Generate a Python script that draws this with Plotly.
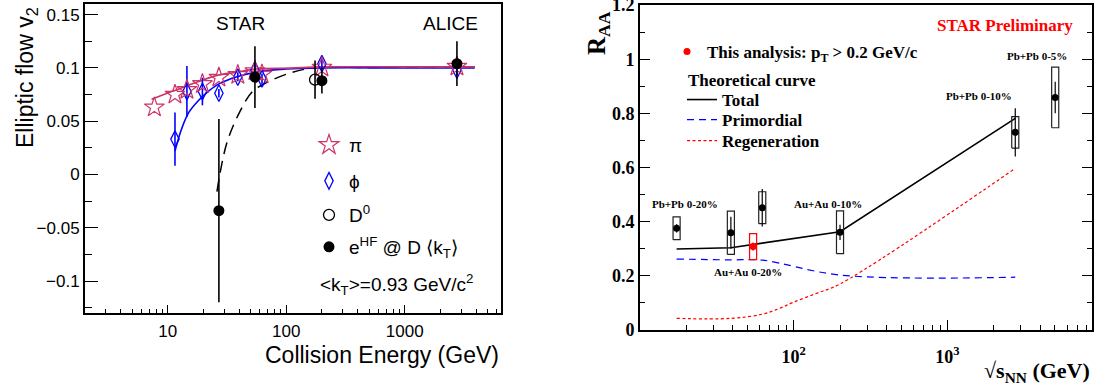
import plotly.graph_objects as go

W, H = 1099, 389

# ---------------- Left panel data (v2 vs collision energy) ----------------
pi_energy = [7.7, 11.5, 14.5, 19.6, 27, 39, 54.4, 62.4, 200, 2760]
pi_v2 = [0.063, 0.075, 0.0795, 0.085, 0.091, 0.0935, 0.097, 0.094, 0.1004, 0.1013]
pi_fit_energy = [7.3, 10.9, 18, 26, 38, 56, 107, 198, 1000, 3900]
pi_fit_v2 = [0.0707, 0.078, 0.087, 0.093, 0.096, 0.099, 0.0998, 0.101, 0.101, 0.101]

phi_energy = [11.5, 14.5, 19.6, 27, 39, 54.4, 62.4, 200, 2760]
phi_v2 = [0.0332, 0.0779, 0.0779, 0.0763, 0.0914, 0.098, 0.0898, 0.104, 0.098]
phi_err = [0.025, 0.024, 0.013, 0.004, 0.004, 0.009, 0.005, 0.005, 0.005]
phi_fit_energy = [11.5, 13, 15, 18, 22, 27, 39, 62, 100, 200, 1000, 3900]
phi_fit_v2 = [0.022, 0.042, 0.058, 0.069, 0.078, 0.085, 0.092, 0.097, 0.099, 0.1, 0.1, 0.1]

d0_energy = [175]
d0_v2 = [0.089]
d0_err = [0.018]

ehf_energy = [27, 54.4, 200, 2760]
ehf_v2 = [-0.034, 0.0914, 0.088, 0.104]
ehf_err = [0.086, 0.029, 0.012, 0.021]
ehf_curve_energy = [26, 31.4, 40.6, 52, 67, 106, 166, 500, 2760, 3900]
ehf_curve_v2 = [-0.016, 0.029, 0.059, 0.078, 0.0857, 0.095, 0.0998, 0.1005, 0.101, 0.101]

left_xticks = [10, 100, 1000]
left_xticktext = ["10", "100", "1000"]
left_xminor = [m * d for d in (1, 10, 100, 1000) for m in range(2, 10) if 2 <= m * d <= 6500]
left_yticks = [-0.1, -0.05, 0, 0.05, 0.1, 0.15]
left_yticktext = ["\u22120.1", "\u22120.05", "0", "0.05", "0.1", "0.15"]
left_yminor = [-0.125, -0.075, -0.025, 0.025, 0.075, 0.125]

# ---------------- Right panel data (R_AA vs sqrt(s_NN)) ----------------
black_energy = [17.3, 39, 62.4, 200, 2760, 5020]
black_raa = [0.3755, 0.359, 0.4516, 0.3608, 0.730, 0.859]
black_stat = [0.015, 0.059, 0.069, 0.028, 0.089, 0.058]
black_sys = [0.042, 0.08, 0.059, 0.079, 0.058, 0.112]

red_energy = [54.4]
red_raa = [0.308]
red_stat = [0.015]
red_sys = [0.048]

total_energy = [17.3, 39, 200, 2760]
total_raa = [0.299, 0.304, 0.363, 0.782]
prim_energy = [17.3, 39, 62.4, 200, 2760]
prim_raa = [0.262, 0.259, 0.258, 0.203, 0.195]
regen_energy = [17.3, 39, 63, 81, 100, 140, 200, 2760]
regen_raa = [0.043, 0.043, 0.059, 0.08, 0.103, 0.135, 0.170, 0.597]

right_xticks = [100, 1000]
right_xticktext = ["10<sup>2</sup>", "10<sup>3</sup>"]
right_xminor = [m * d for d in (10, 100, 1000) for m in range(2, 10) if m * d < 8700]
right_yticks = [0, 0.2, 0.4, 0.6, 0.8, 1.0, 1.2]
right_yticktext = ["0", "0.2", "0.4", "0.6", "0.8", "1", "1.2"]
right_yminor = [0.1, 0.3, 0.5, 0.7, 0.9, 1.1]

# ---------------- styles ----------------
SANS = "Liberation Sans, Arial, sans-serif"
SERIF = "Liberation Serif, Times New Roman, serif"
PINK = "#cc3366"
BLUE = "#0000ff"
BOX_HALF_DEC = 0.023


def px(xp):
    return xp / W


def py(yp):
    return 1 - yp / H


def sys_boxes(xs, ys, ss):
    bx, by = [], []
    f = 10 ** BOX_HALF_DEC
    for x, y, s in zip(xs, ys, ss):
        bx += [x / f, x * f, x * f, x / f, x / f, None]
        by += [y - s, y - s, y + s, y + s, y - s, None]
    return bx, by


fig = go.Figure()

# ---- left panel curves ----
fig.add_trace(go.Scatter(x=ehf_curve_energy, y=ehf_curve_v2, mode="lines",
                         line=dict(color="black", width=1.5, dash="12px,7px"),
                         showlegend=False, xaxis="x", yaxis="y", line_shape="spline"))
fig.add_trace(go.Scatter(x=phi_fit_energy, y=phi_fit_v2, mode="lines", line=dict(color=BLUE, width=1.6),
                         showlegend=False, xaxis="x", yaxis="y", line_shape="spline"))
fig.add_trace(go.Scatter(x=pi_fit_energy, y=pi_fit_v2, mode="lines", line=dict(color=PINK, width=1.6),
                         showlegend=False, xaxis="x", yaxis="y", line_shape="spline"))

# ---- left panel points ----
fig.add_trace(go.Scatter(x=phi_energy, y=phi_v2, mode="markers", name="\u03d5",
                         marker=dict(symbol="diamond-tall-open", size=12, color=BLUE, line=dict(width=1.3, color=BLUE)),
                         error_y=dict(type="data", array=phi_err, color=BLUE, thickness=1.6, width=0),
                         xaxis="x", yaxis="y", legend="legend2"))
fig.add_trace(go.Scatter(x=pi_energy, y=pi_v2, mode="markers", name="\u03c0",
                         marker=dict(symbol="star-open", size=15, color=PINK, line=dict(width=1.2, color=PINK)),
                         xaxis="x", yaxis="y", legend="legend"))
fig.add_trace(go.Scatter(x=d0_energy, y=d0_v2, mode="markers", name="D<sup>0</sup>",
                         marker=dict(symbol="circle-open", size=11, color="black", line=dict(width=1.3, color="black")),
                         error_y=dict(type="data", array=d0_err, color="black", thickness=1.6, width=0),
                         xaxis="x", yaxis="y", legend="legend3"))
fig.add_trace(go.Scatter(x=ehf_energy, y=ehf_v2, mode="markers", name="e<sup>HF</sup> @ D \u27e8k<sub>T</sub>\u27e9",
                         marker=dict(symbol="circle", size=11, color="black"),
                         error_y=dict(type="data", array=ehf_err, color="black", thickness=1.6, width=0),
                         xaxis="x", yaxis="y", legend="legend4"))

# ---- right panel curves ----
fig.add_trace(go.Scatter(x=total_energy, y=total_raa, mode="lines", name="Total",
                         line=dict(color="black", width=1.6), xaxis="x2", yaxis="y2", legend="legend6"))
fig.add_trace(go.Scatter(x=prim_energy, y=prim_raa, mode="lines", name="Primordial",
                         line=dict(color=BLUE, width=1.2, dash="7px,5px"), xaxis="x2", yaxis="y2",
                         legend="legend7", line_shape="spline"))
fig.add_trace(go.Scatter(x=regen_energy, y=regen_raa, mode="lines", name="Regeneration",
                         line=dict(color="red", width=1.2, dash="3px,2.5px"), xaxis="x2", yaxis="y2",
                         legend="legend8", line_shape="spline"))

# ---- right panel systematic boxes and points ----
bx, by = sys_boxes(black_energy, black_raa, black_sys)
fig.add_trace(go.Scatter(x=bx, y=by, mode="lines", line=dict(color="#222222", width=1.2), showlegend=False,
                         xaxis="x2", yaxis="y2"))
rbx, rby = sys_boxes(red_energy, red_raa, red_sys)
fig.add_trace(go.Scatter(x=rbx, y=rby, mode="lines", line=dict(color="red", width=1.2), showlegend=False,
                         xaxis="x2", yaxis="y2"))
fig.add_trace(go.Scatter(x=black_energy, y=black_raa, mode="markers", marker=dict(symbol="circle", size=7, color="black"),
                         error_y=dict(type="data", array=black_stat, color="black", thickness=1.2, width=0),
                         showlegend=False, xaxis="x2", yaxis="y2"))
fig.add_trace(go.Scatter(x=red_energy, y=red_raa, mode="markers", name="This analysis: p<sub>T</sub> &gt; 0.2 GeV/c",
                         marker=dict(symbol="circle", size=7, color="red"),
                         error_y=dict(type="data", array=red_stat, color="red", thickness=1.2, width=0),
                         xaxis="x2", yaxis="y2", legend="legend5"))

left_font = dict(family=SANS, size=17, color="black")
right_font = dict(family=SERIF, size=18, color="black", weight="bold")
common_axis = dict(showgrid=False, zeroline=False, showline=True, linecolor="black", linewidth=2,
                   tickmode="array", ticks="inside", tickwidth=1.2, tickcolor="black", automargin=False,
                   ticklabeloverflow="allow")

fig.update_layout(
    width=W, height=H, margin=dict(l=0, r=0, t=0, b=0, pad=0, autoexpand=False),
    paper_bgcolor="white", plot_bgcolor="white",
    xaxis=dict(type="log", domain=[px(85), px(501)], range=[0.30103, 3.813], anchor="y",
               tickvals=left_xticks, ticktext=left_xticktext, ticklen=8, tickfont=left_font, mirror=True,
               ticklabelstandoff=2,
               minor=dict(tickmode="array", tickvals=left_xminor, ticks="inside", ticklen=4, tickwidth=1.2,
                          tickcolor="black", showgrid=False), **common_axis),
    yaxis=dict(domain=[py(313), py(4)], range=[-0.13, 0.16], anchor="x",
               tickvals=left_yticks, ticktext=left_yticktext, ticklen=13, tickfont=left_font, mirror=True,
               minor=dict(tickmode="array", tickvals=left_yminor, ticks="inside", ticklen=7, tickwidth=1.2,
                          tickcolor="black", showgrid=False), **common_axis),
    xaxis2=dict(type="log", domain=[px(640), px(1092)], range=[1.0, 3.94], anchor="y2",
                tickvals=right_xticks, ticktext=right_xticktext, ticklen=10, tickfont=right_font, mirror=True,
                ticklabelstandoff=9,
                minor=dict(tickmode="array", tickvals=right_xminor, ticks="inside", ticklen=5, tickwidth=1.2,
                           tickcolor="black", showgrid=False), **common_axis),
    yaxis2=dict(domain=[py(330), py(5)], range=[0, 1.2005], anchor="x2",
                tickvals=right_yticks, ticktext=right_yticktext, ticklen=10, tickfont=right_font, mirror="ticks",
                minor=dict(tickmode="array", tickvals=right_yminor, ticks="inside", ticklen=5, tickwidth=1.2,
                           tickcolor="black", showgrid=False), **common_axis),
)

left_leg_font = dict(family=SANS, size=19, color="black")
LEFT_L = 309
for name, yc in [("legend", 145), ("legend2", 181), ("legend3", 215), ("legend4", 247)]:
    fig.update_layout(**{name: dict(x=px(LEFT_L), y=py(yc), xanchor="left", yanchor="middle",
                                   bgcolor="rgba(0,0,0,0)", font=left_leg_font)})

right_leg_font = dict(family=SERIF, size=17, color="black", weight="bold")
fig.update_layout(legend5=dict(x=px(667), y=py(52), xanchor="left", yanchor="middle",
                               bgcolor="rgba(0,0,0,0)", font=right_leg_font))
for name, yc in [("legend6", 100), ("legend7", 120), ("legend8", 141)]:
    fig.update_layout(**{name: dict(x=px(682), y=py(yc), xanchor="left", yanchor="middle",
                                   bgcolor="rgba(0,0,0,0)", font=right_leg_font)})


def ann(text, x, y, font, xanchor="center", yanchor="middle", angle=0):
    fig.add_annotation(text=text, x=px(x), y=py(y), xref="paper", yref="paper", showarrow=False,
                       xanchor=xanchor, yanchor=yanchor, font=font, textangle=angle)


sans23 = dict(family=SANS, size=23, color="black")
serif_title = dict(family=SERIF, size=22, color="black", weight="bold")
lab_font = dict(family=SERIF, size=11, color="black", weight="bold")

ann("Elliptic flow v<sub>2</sub>", 26, 78, sans23, angle=-90)
ann("Collision Energy (GeV)", 501, 355, sans23, xanchor="right")
ann("STAR", 240, 24, dict(family=SANS, size=19, color="black"))
ann("ALICE", 450, 24, dict(family=SANS, size=19, color="black"))
ann("&lt;k<sub>T</sub>&gt;=0.93 GeV/c<sup>2</sup>", 396, 284, dict(family=SANS, size=19, color="black"))

ann("R<sub>AA</sub>", 598, 33, dict(family=SERIF, size=25, color="black", weight="bold"), angle=-90)
ann("\u221as<sub>NN</sub> (GeV)", 1092, 372, serif_title, xanchor="right")
ann("STAR Preliminary", 1005, 26, dict(family=SERIF, size=17, color="red", weight="bold"))
ann("Theoretical curve", 686, 80, right_leg_font, xanchor="left")
ann("Pb+Pb 0-20%", 685, 204, lab_font)
ann("Au+Au 0-10%", 828, 204, lab_font)
ann("Au+Au 0-20%", 748, 272, lab_font)
ann("Pb+Pb 0-10%", 979, 96, lab_font)
ann("Pb+Pb 0-5%", 1037, 56, lab_font)

fig.write_html("out.html", config={"responsive": False})
